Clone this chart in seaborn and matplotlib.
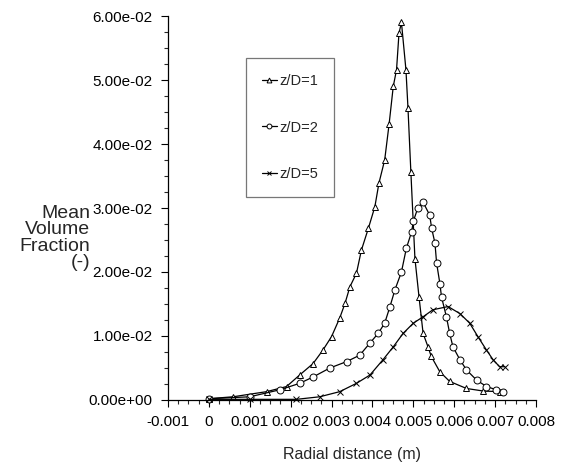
import matplotlib
matplotlib.use("Agg")
import matplotlib.pyplot as plt
from matplotlib.ticker import MultipleLocator, FuncFormatter
import seaborn as sns

# ---- data ----
labels = ["z/D=1", "z/D=2", "z/D=5"]

x_zd1 = [0.0, 0.00059, 0.00141, 0.0019, 0.00222, 0.00255, 0.00279, 0.0030, 0.0032,
         0.00333, 0.00345, 0.00361, 0.00373, 0.0039, 0.00406, 0.00416, 0.0043,
         0.00441, 0.00451, 0.00459, 0.00465, 0.00471, 0.00482, 0.00487, 0.00494,
         0.00504, 0.00514, 0.00524, 0.00536, 0.00544, 0.00565, 0.00589, 0.0063,
         0.00671, 0.00711]
y_zd1 = [0.0002, 0.0005, 0.0013, 0.0021, 0.0039, 0.0057, 0.0078, 0.0099, 0.0128,
         0.0151, 0.0177, 0.0198, 0.0234, 0.0268, 0.0302, 0.0339, 0.0375,
         0.0432, 0.0490, 0.0516, 0.0573, 0.0590, 0.0516, 0.0456, 0.0357,
         0.0221, 0.0161, 0.0104, 0.0083, 0.0068, 0.0044, 0.0029, 0.0018,
         0.0014, 0.0013]

x_zd2 = [0.0, 0.0010, 0.00174, 0.00222, 0.00255, 0.00296, 0.00337, 0.00369, 0.00394,
         0.00414, 0.0043, 0.00443, 0.00455, 0.00471, 0.00483, 0.00496, 0.0050,
         0.00511, 0.00524, 0.0054, 0.00545, 0.00553, 0.00557, 0.00565, 0.00569,
         0.00581, 0.00589, 0.00597, 0.00614, 0.0063, 0.00655, 0.00679, 0.00703,
         0.0072]
y_zd2 = [0.0002, 0.0005, 0.0016, 0.0026, 0.0036, 0.0050, 0.0060, 0.0070, 0.0089,
         0.0104, 0.0120, 0.0146, 0.0172, 0.0200, 0.0237, 0.0263, 0.0279,
         0.0300, 0.0309, 0.0289, 0.0268, 0.0245, 0.0214, 0.0182, 0.0161,
         0.0130, 0.0104, 0.0083, 0.0063, 0.0047, 0.0031, 0.0021, 0.0016,
         0.0013]

x_zd5 = [0.0, 0.0010, 0.00214, 0.00271, 0.0032, 0.00361, 0.00394, 0.00426, 0.00451,
         0.00475, 0.0050, 0.00524, 0.00548, 0.00585, 0.00614, 0.00638, 0.00658,
         0.00679, 0.00695, 0.00711, 0.00724]
y_zd5 = [0.0001, 0.0001, 0.0001, 0.0005, 0.0013, 0.0026, 0.0039, 0.0063, 0.0083,
         0.0104, 0.0120, 0.0130, 0.0141, 0.0146, 0.0135, 0.0120, 0.0099,
         0.0078, 0.0063, 0.0052, 0.0052]

series = [(x_zd1, y_zd1), (x_zd2, y_zd2), (x_zd5, y_zd5)]
markers = ["^", "o", "x"]
marker_sizes = [4.5, 5.0, 4.0]

# ---- style ----
sns.set_style("ticks")
plt.rcParams["font.family"] = ["Liberation Sans", "DejaVu Sans"]

fig = plt.figure(figsize=(5.65, 4.67), dpi=100)
ax = fig.add_axes([0.2973, 0.1435, 0.6513, 0.8222])

for (xs, ys), lab, mk, ms in zip(series, labels, markers, marker_sizes):
    sns.lineplot(x=xs, y=ys, ax=ax, sort=False, estimator=None,
                 color="black", linewidth=0.9, marker=mk, markersize=ms,
                 markerfacecolor="white", markeredgecolor="black",
                 markeredgewidth=0.7, label=lab, clip_on=False)

ax.set_xlim(-0.001, 0.008)
ax.set_ylim(0, 0.06)
ax.xaxis.set_major_locator(MultipleLocator(0.001))
ax.xaxis.set_minor_locator(MultipleLocator(0.00025))
ax.yaxis.set_major_locator(MultipleLocator(0.01))
ax.yaxis.set_minor_locator(MultipleLocator(0.0025))
ax.xaxis.set_major_formatter(FuncFormatter(lambda v, p: f"{round(v, 6):g}" if abs(v) > 1e-12 else "0"))
ax.yaxis.set_major_formatter(FuncFormatter(lambda v, p: f"{v:.2e}"))

ax.tick_params(which="major", direction="out", length=5, width=0.8, pad=6,
               labelsize=11, colors="black")
ax.tick_params(which="minor", direction="out", length=3, width=0.8)

for s in ["top", "right"]:
    ax.spines[s].set_visible(False)
for s in ["left", "bottom"]:
    ax.spines[s].set_color("black")
    ax.spines[s].set_linewidth(0.9)

ax.set_xlabel("Radial distance (m)", fontsize=11.5, labelpad=13)
ax.set_ylabel("Mean\nVolume\nFraction\n(-)", rotation=0, fontsize=14,
              ha="right", va="center", multialignment="right", linespacing=0.95)
ax.yaxis.set_label_coords(-0.212, 0.422)

leg = ax.legend(loc="center", bbox_to_anchor=(0.3315, 0.7096), frameon=True,
                fancybox=False, fontsize=10.5, handlelength=1.0,
                handletextpad=0.15, labelspacing=2.2, borderpad=1.1,
                borderaxespad=0)
leg.get_frame().set_edgecolor("#555555")
leg.get_frame().set_linewidth(0.9)
for h in leg.legend_handles:
    h.set_markersize(3.5)

fig.savefig("out.png", dpi=100)
